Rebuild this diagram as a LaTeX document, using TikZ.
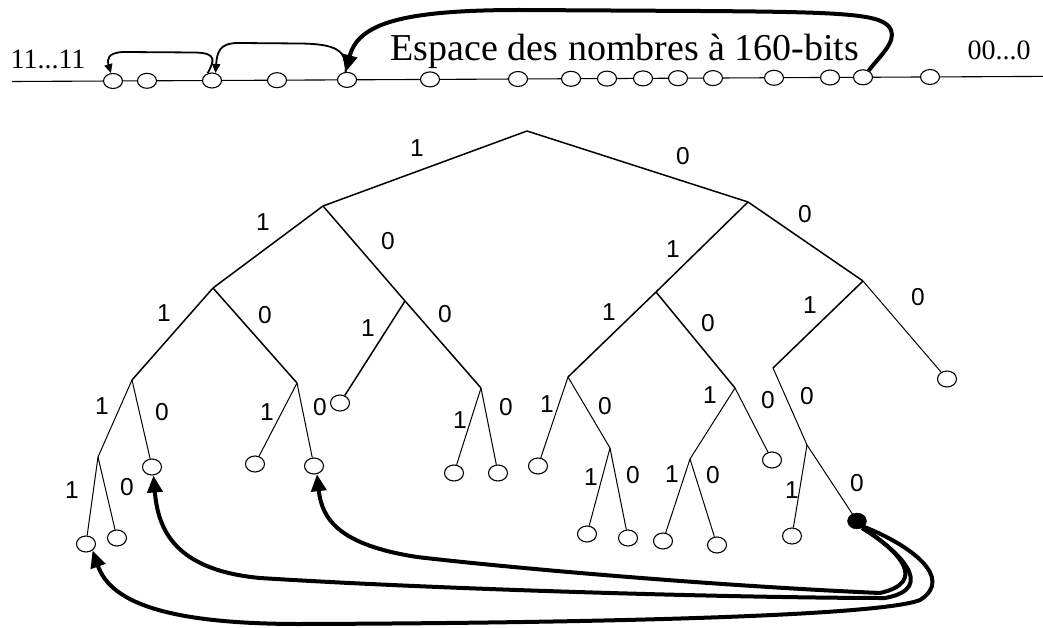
\documentclass[tikz,border=0pt]{standalone}
\usepackage{fontspec}
\setmainfont{Liberation Serif}
\setsansfont{Liberation Sans}
\usetikzlibrary{shapes.geometric,arrows.meta}
\begin{document}
\begin{tikzpicture}[x=1pt,y=-1pt,
  ring/.style={ellipse,draw,fill=white,minimum width=19pt,minimum height=15pt,inner sep=0pt,line width=1.1pt},
  leafnode/.style={ellipse,draw,fill=white,minimum width=19pt,minimum height=16pt,inner sep=0pt,line width=1.1pt},
  fullnode/.style={ellipse,draw,fill=black,minimum width=19pt,minimum height=16pt,inner sep=0pt},
  e1/.style={line width=1.5pt},
  e2/.style={line width=1pt},
  bit/.style={font=\sffamily\fontsize{24.5}{24.5}\selectfont,inner sep=0pt},
  thinarrow/.style={line width=1.8pt,-{Triangle[length=9pt,width=8pt]}},
  thickarrow/.style={line width=4pt,-{Triangle[length=17pt,width=15pt]}},
]
\useasboundingbox (0,0) rectangle (1043,628);

% ---------- top line ----------
\coordinate (L) at (12,81.5);
\coordinate (R) at (1043,76.4);
\draw[line width=1.1pt] (L) -- (R);
\node[ring] (c1) at (113,81.0) {};
\node[ring] (c2) at (147,80.8) {};
\node[ring] (c3) at (212,80.5) {};
\node[ring] (c4) at (277,80.2) {};
\node[ring] (c5) at (347,79.9) {};
\node[ring] (c6) at (430,79.4) {};
\node[ring] (c7) at (518,79.0) {};
\node[ring] (c8) at (571,78.8) {};
\node[ring] (c9) at (607,78.6) {};
\node[ring] (c10) at (643,78.4) {};
\node[ring] (c11) at (678,78.2) {};
\node[ring] (c12) at (713,78.1) {};
\node[ring] (c13) at (774,77.8) {};
\node[ring] (c14) at (830,77.5) {};
\node[ring] (c15) at (863,77.3) {};
\node[ring] (c16) at (930,77.0) {};

\node[anchor=base,inner sep=0pt,font=\fontsize{28}{28}\selectfont] (lo) at (48,69) {11...11};
\node[anchor=base,inner sep=0pt,font=\fontsize{38}{38}\selectfont] (title) at (625,61) {Espace des nombres à 160-bits};
\node[anchor=base,inner sep=0pt,font=\fontsize{28}{28}\selectfont] (hi) at (999,60) {00...0};

\draw[thinarrow] (c3.120) .. controls (213,62) and (219,53) .. (195,52.5) -- (125,52)
   .. controls (107,52) and (107,60) .. (c1.105);
\draw[thinarrow] (c5.100) .. controls (347,50) and (336,44) .. (300,43.5) -- (238,43)
   .. controls (219,43) and (217,53) .. (c3.65);
\draw[thickarrow] (c15.50) .. controls (880,56) and (896,42) .. (891,30)
   .. controls (884,14) and (850,12) .. (700,11) -- (520,10)
   .. controls (400,10) and (358,24) .. (c5.100);

% ---------- tree ----------
\coordinate (r) at (527,131);
\coordinate (a) at (323,206);
\coordinate (b) at (748,202);
\coordinate (aa) at (213,288);
\coordinate (ab) at (405,301);
\coordinate (ba) at (656,292);
\coordinate (bb) at (863,281);
\coordinate (aaa) at (132,380);
\coordinate (aab) at (297,383);
\node[leafnode] (aba) at (340,403) {};
\coordinate (abb) at (481,388);
\coordinate (baa) at (568,377);
\coordinate (bab) at (735,388);
\coordinate (bba) at (773,368);
\node[leafnode] (bbb) at (947,379) {};
\coordinate (aaaa) at (98,457);
\node[leafnode] (aaab) at (152,467) {};
\node[leafnode] (aaaaa) at (86,544) {};
\node[leafnode] (aaaab) at (117,538) {};
\node[leafnode] (aaba) at (255,464) {};
\node[leafnode] (aabb) at (314,466) {};
\node[leafnode] (abba) at (454,473) {};
\node[leafnode] (abbb) at (498,473) {};
\node[leafnode] (baaa) at (538,466) {};
\coordinate (baab) at (610,448);
\node[leafnode] (baaba) at (587,534) {};
\node[leafnode] (baabb) at (628,538) {};
\coordinate (baba) at (690,459);
\node[leafnode] (babb) at (772,460) {};
\node[leafnode] (babaa) at (663,541) {};
\node[leafnode] (babab) at (717,545) {};
\coordinate (bbab) at (807,445);
\node[leafnode] (bbaba) at (792,536) {};
\node[fullnode] (bbabb) at (857,521) {};

\draw[e1] (r) -- (a);
\draw[e1] (r) -- (b);
\draw[e1] (a) -- (aa);
\draw[e1] (a) -- (ab);
\draw[e1] (b) -- (ba);
\draw[e1] (b) -- (bb);
\draw[e1] (aa) -- (aaa);
\draw[e1] (aa) -- (aab);
\draw[e1] (ab) -- (aba);
\draw[e1] (ab) -- (abb);
\draw[e1] (ba) -- (baa);
\draw[e1] (ba) -- (bab);
\draw[e1] (bb) -- (bba);
\draw[e2] (bb) -- (bbb);
\draw[e2] (aaa) -- (aaaa);
\draw[e2] (aaa) -- (aaab);
\draw[e2] (aaaa) -- (aaaaa);
\draw[e2] (aaaa) -- (aaaab);
\draw[e2] (aab) -- (aaba);
\draw[e2] (aab) -- (aabb);
\draw[e2] (abb) -- (abba);
\draw[e2] (abb) -- (abbb);
\draw[e2] (baa) -- (baaa);
\draw[e2] (baa) -- (baab);
\draw[e2] (baab) -- (baaba);
\draw[e2] (baab) -- (baabb);
\draw[e2] (bab) -- (baba);
\draw[e2] (bab) -- (babb);
\draw[e2] (baba) -- (babaa);
\draw[e2] (baba) -- (babab);
\draw[e2] (bba) -- (bbab);
\draw[e2] (bbab) -- (bbaba);
\draw[e2] (bbab) -- (bbabb);

% labels
\node[bit] (l1) at (417,148) {1};
\node[bit] (l2) at (683,156) {0};
\node[bit] (l3) at (263,222) {1};
\node[bit] (l4) at (388,241) {0};
\node[bit] (l5) at (673,249) {1};
\node[bit] (l6) at (805,214) {0};
\node[bit] (l7) at (164,313) {1};
\node[bit] (l8) at (265,315) {0};
\node[bit] (l9) at (368,328) {1};
\node[bit] (l10) at (445,314) {0};
\node[bit] (l11) at (609,312) {1};
\node[bit] (l12) at (708,323) {0};
\node[bit] (l13) at (810,305) {1};
\node[bit] (l14) at (918,297) {0};
\node[bit] (l15) at (102,406) {1};
\node[bit] (l16) at (162,412) {0};
\node[bit] (l17) at (72,490) {1};
\node[bit] (l18) at (127,487) {0};
\node[bit] (l19) at (267,412) {1};
\node[bit] (l20) at (320,407) {0};
\node[bit] (l21) at (460,420) {1};
\node[bit] (l22) at (506,407) {0};
\node[bit] (l23) at (547,404) {1};
\node[bit] (l24) at (605,406) {0};
\node[bit] (l25) at (591,477) {1};
\node[bit] (l26) at (633,475) {0};
\node[bit] (l27) at (710,395) {1};
\node[bit] (l28) at (768,400) {0};
\node[bit] (l29) at (672,474) {1};
\node[bit] (l30) at (713,475) {0};
\node[bit] (l31) at (807,396) {0};
\node[bit] (l32) at (792,490) {1};
\node[bit] (l33) at (857,483) {0};

% ---------- bottom arrows ----------
\draw[thickarrow] (bbabb.-50) .. controls (900,552) and (928,582) .. (880,593)
  .. controls (720,586) and (520,569) .. (417,557)
  .. controls (340,545) and (322,520) .. (aabb.-70);
\draw[thickarrow] (bbabb.-55) .. controls (895,548) and (940,588) .. (885,598)
  .. controls (750,598) and (450,590) .. (260,578)
  .. controls (175,570) and (158,530) .. (aaab.-80);
\draw[thickarrow] (bbabb.-40) .. controls (910,545) and (955,578) .. (920,600)
  .. controls (880,616) and (600,623) .. (300,624)
  .. controls (160,624) and (110,600) .. (aaaaa.-45);
\end{tikzpicture}
\end{document}
